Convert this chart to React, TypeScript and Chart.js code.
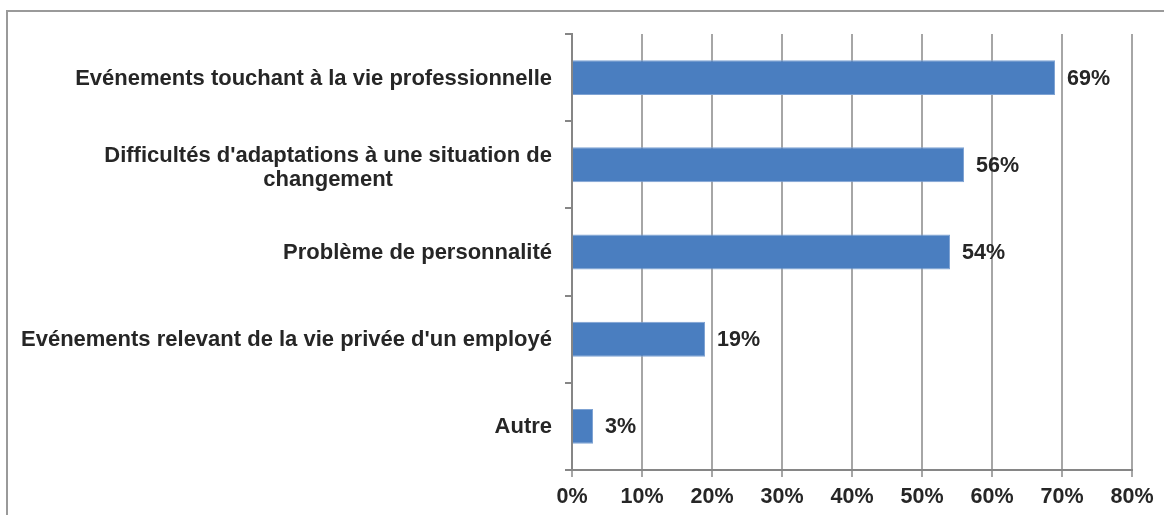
import React, { useEffect, useRef } from "react";
import { Chart, registerables } from "chart.js";

Chart.register(...registerables);

const categories: string[][] = [
  ["Evénements touchant à la vie professionnelle"],
  ["Difficultés d'adaptations à une situation de", "changement"],
  ["Problème de personnalité"],
  ["Evénements relevant de la vie privée d'un employé"],
  ["Autre"],
];
const values: number[] = [69, 56, 54, 19, 3];
const xTicks: number[] = [0, 10, 20, 30, 40, 50, 60, 70, 80];

const FONT = "'Liberation Sans', Arial, sans-serif";
const TEXT = "#262626";

const labelsPlugin = {
  id: "customLabels",
  afterDatasetsDraw(chart: any) {
    const ctx = chart.ctx;
    const yScale = chart.scales.y;
    const meta = chart.getDatasetMeta(0);
    ctx.save();
    ctx.font = `bold 22px ${FONT}`;
    ctx.fillStyle = TEXT;
    ctx.textBaseline = "middle";
    const rightEdge = yScale.right - 20;
    const lh = 24;
    categories.forEach((lines, i) => {
      const cy = yScale.getPixelForValue(i) + 1;
      const widest = Math.max(...lines.map((l) => ctx.measureText(l).width));
      const startY = cy - ((lines.length - 1) * lh) / 2 + (lines.length > 1 ? 2 : 0);
      lines.forEach((line, j) => {
        if (lines.length > 1) {
          ctx.textAlign = "center";
          ctx.fillText(line, rightEdge - widest / 2, startY + j * lh);
        } else {
          ctx.textAlign = "right";
          ctx.fillText(line, rightEdge, startY + j * lh);
        }
      });
    });
    ctx.font = `bold 21.5px ${FONT}`;
    ctx.textAlign = "left";
    meta.data.forEach((bar: any, i: number) => {
      ctx.fillText(values[i] + "%", bar.x + 12, bar.y + 1);
    });
    ctx.restore();
  },
};

export default function App() {
  const ref = useRef<HTMLCanvasElement | null>(null);
  useEffect(() => {
    if (!ref.current) return;
    const chart = new Chart(ref.current, {
      type: "bar",
      data: {
        labels: categories.map((c) => c.join(" ")),
        datasets: [
          {
            data: values,
            backgroundColor: "#4A7EC0",
            borderColor: "#7FA3D3",
            borderWidth: 1,
            categoryPercentage: 1,
            barPercentage: 0.4,
          },
        ],
      },
      options: {
        indexAxis: "y",
        animation: false,
        responsive: false,
        maintainAspectRatio: false,
        events: [],
        layout: { padding: { top: 34, right: 32, left: 0, bottom: 0 } },
        plugins: { legend: { display: false }, tooltip: { enabled: false } },
        scales: {
          x: {
            min: 0,
            max: 80,
            afterBuildTicks: (scale: any) => {
              scale.ticks = xTicks.map((v) => ({ value: v }));
            },
            afterFit: (scale: any) => {
              scale.height = 45;
            },
            ticks: {
              callback: (v: any) => v + "%",
              font: { family: FONT, size: 21.5, weight: "bold" },
              color: TEXT,
              padding: 7,
              maxRotation: 0,
            },
            grid: {
              color: "#A6A6A6",
              lineWidth: 2,
              tickLength: 7,
              drawTicks: true,
            },
            border: { color: "#868686", width: 2 },
          },
          y: {
            afterFit: (scale: any) => {
              scale.width = 572;
            },
            ticks: { display: false },
            grid: {
              drawOnChartArea: false,
              drawTicks: true,
              tickLength: 7,
              offset: true,
              color: "#868686",
              lineWidth: 2,
            },
            border: { color: "#868686", width: 2 },
          },
        },
      },
      plugins: [labelsPlugin],
    });
    return () => chart.destroy();
  }, []);
  return (
    <div style={{ position: "absolute", left: 0, top: 0, width: 1164, height: 515, overflow: "hidden", background: "#fff" }}>
      <div
        style={{
          position: "absolute",
          left: 6,
          top: 10,
          width: 1300,
          height: 700,
          borderLeft: "2px solid #9A9A9A",
          borderTop: "2px solid #9A9A9A",
        }}
      />
      <canvas ref={ref} width={1164} height={515} style={{ position: "absolute", left: 0, top: 0, display: "block" }} />
    </div>
  );
}
